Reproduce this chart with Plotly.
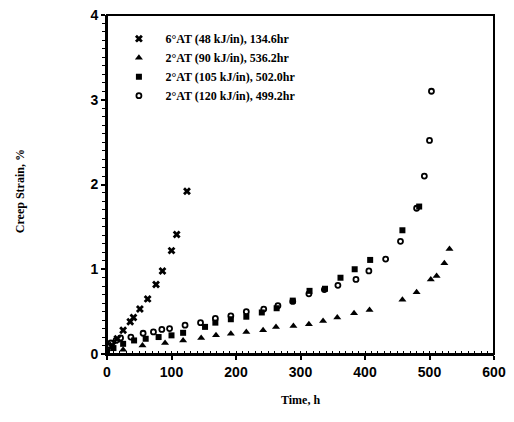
import plotly.graph_objects as go

# ---- data ----
names = [
    "6°AT (48 kJ/in), 134.6hr",
    "2°AT (90 kJ/in), 536.2hr",
    "2°AT (105 kJ/in), 502.0hr",
    "2°AT (120 kJ/in), 499.2hr",
]

t_48 = [0, 8, 16, 25, 36, 41, 51, 63, 76, 86, 100, 108, 124]
e_48 = [0.02, 0.1, 0.18, 0.28, 0.38, 0.43, 0.53, 0.65, 0.82, 0.98, 1.22, 1.41, 1.92]

t_90 = [0, 25, 55, 90, 118, 146, 169, 192, 216, 242, 262, 289, 313, 335, 357, 383,
        407, 458, 480, 502, 511, 523, 531]
e_90 = [0.0, 0.05, 0.1, 0.13, 0.16, 0.19, 0.22, 0.24, 0.26, 0.28, 0.32, 0.33, 0.35,
        0.39, 0.43, 0.48, 0.52, 0.64, 0.73, 0.88, 0.92, 1.07, 1.24]

t_105 = [0, 10, 25, 42, 60, 80, 100, 118, 152, 168, 192, 216, 240, 263, 288, 314,
         338, 362, 384, 408, 458, 484]
e_105 = [0.02, 0.07, 0.12, 0.16, 0.18, 0.2, 0.22, 0.25, 0.32, 0.37, 0.41, 0.44, 0.49,
         0.54, 0.63, 0.745, 0.77, 0.9, 1.0, 1.11, 1.46, 1.74]

t_120 = [0, 6, 14, 21, 37, 56, 72, 85, 97, 121, 145, 168, 192, 216, 243, 265, 288,
         313, 337, 358, 386, 406, 432, 455, 480, 492, 500, 503]
e_120 = [0.05, 0.13, 0.16, 0.19, 0.2, 0.245, 0.26, 0.29, 0.30, 0.34, 0.37, 0.42, 0.45,
         0.5, 0.53, 0.57, 0.62, 0.71, 0.76, 0.81, 0.88, 0.98, 1.12, 1.33, 1.72, 2.1,
         2.52, 3.1]

x_ticks = [0, 100, 200, 300, 400, 500, 600]
y_ticks = [0, 1, 2, 3, 4]
x_title = "Time, h"
y_title = "Creep Strain, %"

series = [
    (t_48, e_48, dict(symbol="x", size=7, color="black", line=dict(width=0))),
    (t_90, e_90, dict(symbol="triangle-up", size=7, color="black", line=dict(width=0))),
    (t_105, e_105, dict(symbol="square", size=6, color="black", line=dict(width=0))),
    (t_120, e_120, dict(symbol="circle-open", size=5, color="black", line=dict(width=1.8, color="black"))),
]

fig = go.Figure()
for name, (xs, ys, mk) in zip(names, series):
    fig.add_trace(go.Scatter(x=xs, y=ys, mode="markers", name=name, marker=mk))

title_font = dict(family="Liberation Serif", size=12, color="black", weight="bold")

# the page body adds an 8px margin on every side: keep the figure small enough
# (498x406) that no scrollbars appear, and place the plot area accordingly
fig.update_layout(
    width=498, height=406,
    margin=dict(l=99, r=12, t=7, b=60, autoexpand=False),
    paper_bgcolor="white", plot_bgcolor="white",
    showlegend=True,
    legend=dict(
        x=0.014, y=0.973, xanchor="left", yanchor="top",
        bgcolor="rgba(0,0,0,0)", borderwidth=0,
        font=dict(family="Liberation Serif", size=12, color="black", weight="bold"),
        itemwidth=43, tracegroupgap=0,
    ),
    font=dict(family="Liberation Serif", color="black"),
    annotations=[
        dict(text=x_title, xref="paper", yref="paper", x=0.5, y=-0.135,
             xanchor="center", yanchor="middle", showarrow=False, font=title_font),
        dict(text=y_title, xref="paper", yref="paper", x=-0.225, y=0.48,
             xanchor="center", yanchor="middle", showarrow=False, textangle=-90,
             font=title_font),
    ],
    shapes=[
        # frame around the plot area
        dict(type="rect", xref="paper", yref="paper", x0=0, x1=1, y0=0, y1=1,
             line=dict(color="#000000", width=2), fillcolor="rgba(0,0,0,0)", layer="above"),
    ],
)

fig.update_xaxes(
    range=[0, 600], tickvals=x_ticks, ticktext=[str(v) for v in x_ticks],
    automargin=False, showgrid=False, zeroline=False, ticklabeloverflow="allow",
    showline=True, linecolor="black", linewidth=2, mirror=False,
    ticks="outside", ticklen=4, tickwidth=1.5, tickcolor="black",
    minor=dict(dtick=10, ticks="inside", ticklen=3, tickwidth=1, tickcolor="black"),
    tickfont=dict(family="Liberation Sans", size=14, color="black", weight="bold"),
)
fig.update_yaxes(
    range=[0, 4], tickvals=y_ticks, ticktext=[str(v) for v in y_ticks],
    automargin=False, showgrid=False, zeroline=False, ticklabeloverflow="allow",
    showline=True, linecolor="black", linewidth=2, mirror=False,
    ticks="outside", ticklen=4, tickwidth=1.5, tickcolor="black",
    minor=dict(dtick=0.1, ticks="outside", ticklen=3, tickwidth=1, tickcolor="black"),
    tickfont=dict(family="Liberation Sans", size=14, color="black", weight="bold"),
)

fig.write_html("out.html")
